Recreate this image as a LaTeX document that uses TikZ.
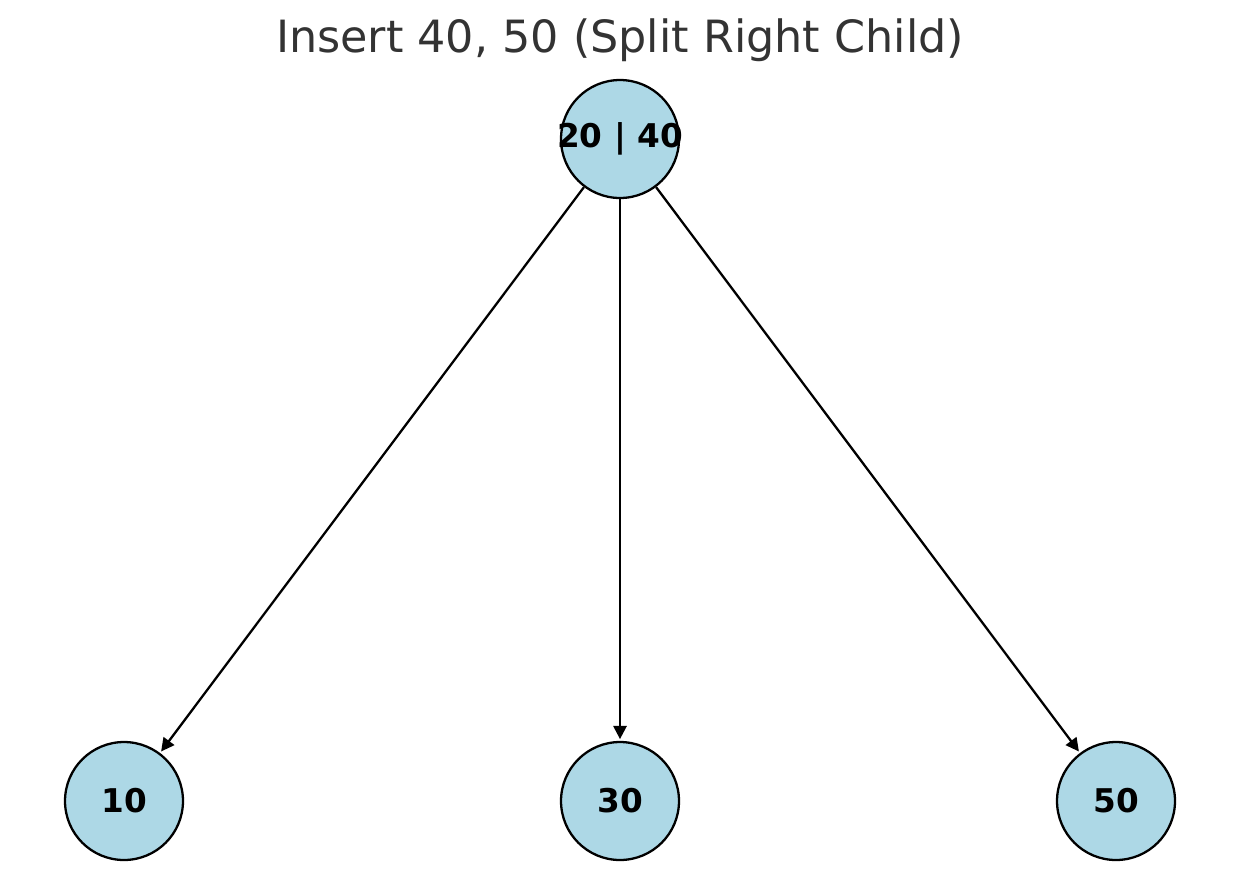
\documentclass[tikz,border=0pt]{standalone}
\usepackage{fontspec}
\setmainfont{DejaVu Sans}
\usetikzlibrary{arrows.meta, positioning}
\definecolor{lightblue}{HTML}{ADD8E6}
\definecolor{titlegrey}{HTML}{333333}

\begin{document}
\begin{tikzpicture}[x=0.02cm, y=-0.02cm, >={Triangle[length=7.5pt, width=7.5pt]},
                       treenode/.style = {circle, draw = black, line width = 1.3pt,
                                          fill = lightblue, minimum size = 2.36cm,
                                          inner sep = 0pt,
                                          font = \fontsize{18.6}{21}\selectfont\bfseries},
                       edge/.style = {->, line width = 1.3pt, shorten > = 1pt}
                      ]

    \useasboundingbox (0, 0) rectangle (1239, 890);

    \node[text = titlegrey, font = \fontsize{25.3}{29}\selectfont] (title) at (620, 40)
        {Insert 40, 50 (Split Right Child)};

    % keys wider than the circle run over its edge
    \node[treenode] (root) at (620, 139) {\makebox[0pt]{20 | 40}};
    \node[treenode] (left) at (124, 801) {10};
    \node[treenode] (mid) at (620, 801) {30};
    \node[treenode] (right) at (1116, 801) {50};

    \draw[edge] (root) -- (left);
    \draw[edge] (root) -- (mid);
    \draw[edge] (root) -- (right);

\end{tikzpicture}
\end{document}
